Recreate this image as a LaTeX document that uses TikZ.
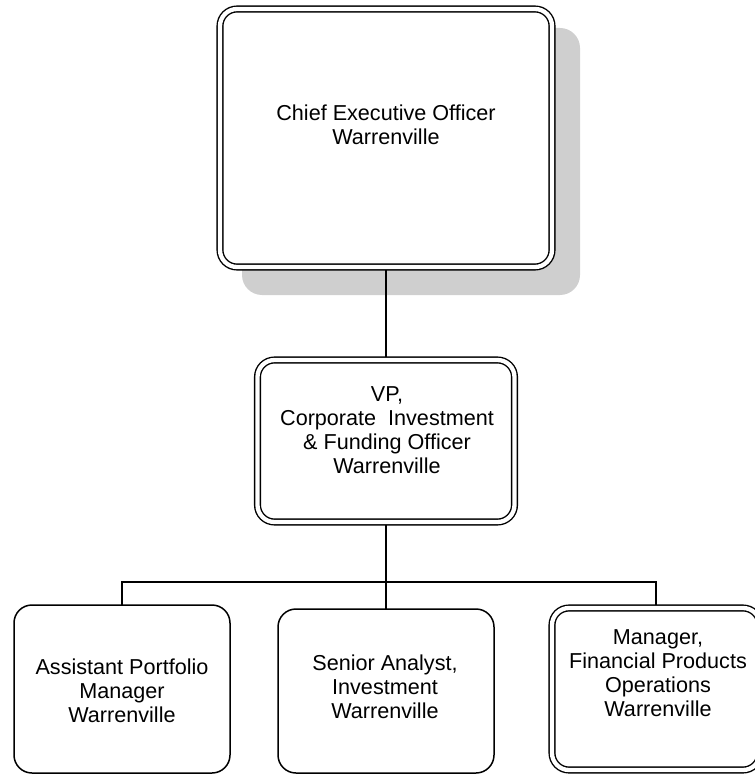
\documentclass[tikz,border=0pt]{standalone}
\usepackage{fontspec}
\setmainfont{Liberation Sans}
\usetikzlibrary{backgrounds}
\begin{document}
\begin{tikzpicture}[x=1pt,y=-1pt,
  every node/.style={inner sep=0pt, outer sep=0pt},
  dbox/.style={draw, fill=white, line width=1.4pt, double, double distance=4.3pt, rounded corners=17pt},
  sbox/.style={draw, fill=white, line width=1.5pt, rounded corners=18pt},
  lbl/.style={align=center, font=\fontsize{21.6}{24}\selectfont},
  conn/.style={line width=1.5pt}]
\useasboundingbox (0,0) rectangle (754,775);
% boxes
\node[dbox, minimum width=332pt, minimum height=258pt] (ceo) at (386,138) {};
\node[dbox, minimum width=257pt, minimum height=162pt] (vp) at (386,441) {};
\node[sbox, minimum width=216pt, minimum height=168pt] (apm) at (122,689) {};
\node[sbox, minimum width=216pt, minimum height=164pt] (sa) at (386,691) {};
\node[dbox, minimum width=208pt, minimum height=162pt] (mgr) at (656,689) {};
% texts
\node[lbl] (ceot) at (386,125) {Chief Executive Officer\\Warrenville};
\node[lbl] (vpt) at (387,430) {VP,\\Corporate\ \ Investment\\\& Funding Officer\\Warrenville};
\node[lbl] (apmt) at (122,691) {Assistant Portfolio\\Manager\\Warrenville};
\node[lbl] (sat) at (385,687) {Senior Analyst,\\Investment\\Warrenville};
\node[lbl] (mgrt) at (658,673) {Manager,\\Financial Products\\Operations\\Warrenville};
\coordinate (j) at (386,582);
\begin{pgfonlayer}{background}
  \fill[gray!38, rounded corners=20pt] (242,28) rectangle (580,295);
  \draw[conn] (ceo.south) -- (vp.north);
  \draw[conn] (vp.south) -- (j);
  \draw[conn] (sa.north) -- (j);
  \draw[conn] (apm.north) |- (j);
  \draw[conn] (mgr.north) |- (j);
\end{pgfonlayer}
\end{tikzpicture}
\end{document}
